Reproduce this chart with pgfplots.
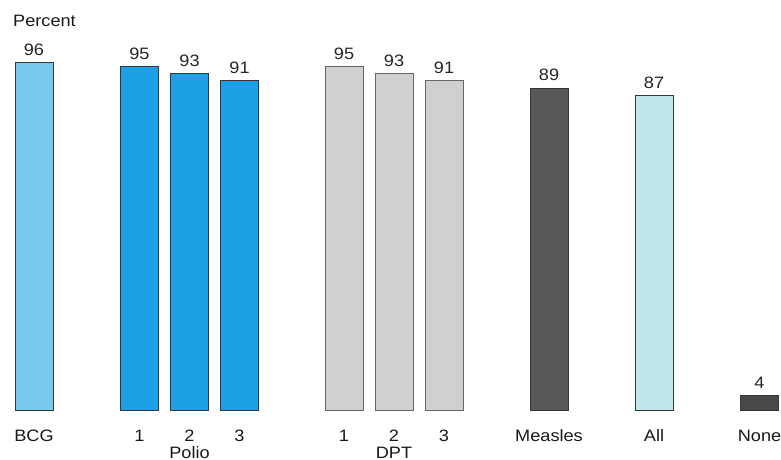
\documentclass[border=0pt]{standalone}
\usepackage{fontspec}
\setmainfont[FakeStretch=1.1]{Liberation Sans}
\usepackage{pgfplots}
\pgfplotsset{compat=1.18}
\definecolor{bcg}{RGB}{122,200,235}
\definecolor{polio}{RGB}{30,160,230}
\definecolor{dpt}{RGB}{208,208,208}
\definecolor{measles}{RGB}{88,88,88}
\definecolor{allc}{RGB}{192,230,238}
\definecolor{nonec}{RGB}{72,72,72}
\definecolor{edge}{RGB}{55,55,55}
\begin{document}
\begin{tikzpicture}
\begin{axis}[
  scale only axis, width=781pt, height=460pt,
  xmin=0, xmax=781, ymin=-13.82, ymax=113.32,
  ybar, bar width=38pt, bar shift=0pt,
  axis line style={draw=none}, tick style={draw=none},
  ytick=\empty,
  /pgf/number format/assume math mode=true,
  xtick={34,139.5,189.5,239.5,344,394,444,549,654,759.5},
  xticklabels={BCG,1,2,3,1,2,3,Measles,All,None},
  xticklabel style={font=\fontsize{16.5}{19}\selectfont, anchor=base, yshift=23pt, inner sep=0pt, text=black!90},
  nodes near coords,
  every node near coord/.append style={font=\fontsize{16.5}{19}\selectfont, anchor=base, yshift=7pt, inner sep=0pt, text=black!85},
  clip=false,
]
\addplot[fill=bcg, draw=edge, line width=0.9pt] coordinates {(34,96)};
\addplot[fill=polio, draw=edge, line width=0.9pt] coordinates {(139.5,95) (189.5,93) (239.5,91)};
\addplot[fill=dpt, draw=gray!80!black, line width=0.9pt] coordinates {(344,95) (394,93) (444,91)};
\addplot[fill=measles, draw=edge, line width=0.9pt] coordinates {(549,89)};
\addplot[fill=allc, draw=edge, line width=0.9pt] coordinates {(654,87)};
\addplot[fill=nonec, draw=edge, line width=0.9pt] coordinates {(759.5,4)};
\node[anchor=base west, inner sep=0pt, text=black!90, font=\fontsize{16.5}{19}\selectfont] at (axis cs:13,105.9) {Percent};
\node[anchor=base, inner sep=0pt, text=black!90, font=\fontsize{16.5}{19}\selectfont] at (axis cs:189.5,-13.27) {Polio};
\node[anchor=base, inner sep=0pt, text=black!90, font=\fontsize{16.5}{19}\selectfont] at (axis cs:394,-13.27) {DPT};
\coordinate (bl) at (rel axis cs:0,0);
\coordinate (tr) at (rel axis cs:1,1);
\end{axis}
\pgfresetboundingbox
\path[use as bounding box] (bl) rectangle (tr);
\end{tikzpicture}
\end{document}
